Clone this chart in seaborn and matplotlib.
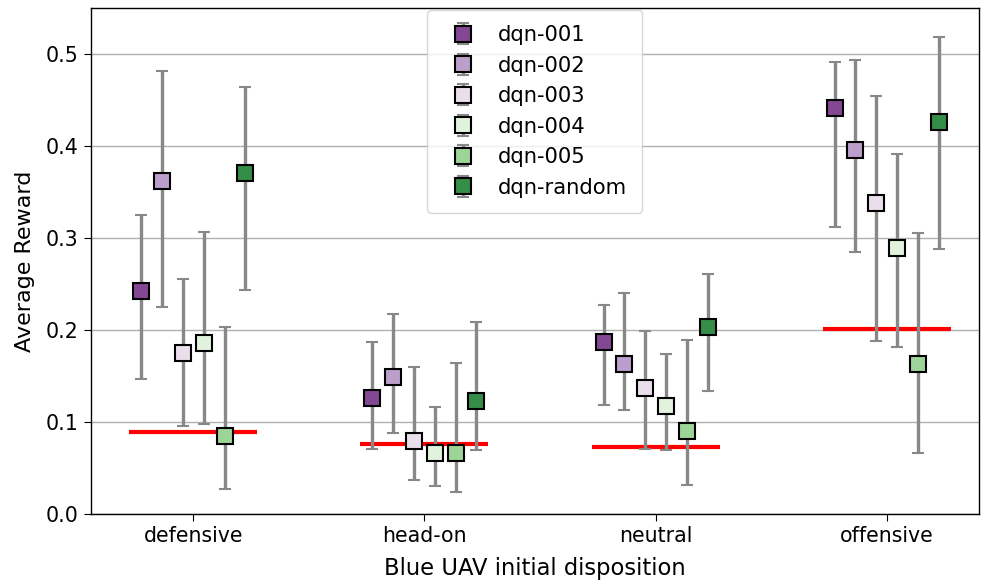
import numpy as np
import pandas as pd
import matplotlib
matplotlib.use("Agg")
import matplotlib.pyplot as plt
import seaborn as sns

categories = ["defensive", "head-on", "neutral", "offensive"]
series = ["dqn-001", "dqn-002", "dqn-003", "dqn-004", "dqn-005", "dqn-random"]

# mean values per series (order of categories)
mean_001 = [0.243, 0.126, 0.187, 0.441]
mean_002 = [0.362, 0.149, 0.163, 0.396]
mean_003 = [0.175, 0.080, 0.137, 0.338]
mean_004 = [0.186, 0.067, 0.118, 0.289]
mean_005 = [0.085, 0.067, 0.090, 0.163]
mean_rnd = [0.371, 0.123, 0.203, 0.426]

# lower / upper ends of the error bars
low_001 = [0.147, 0.071, 0.119, 0.312]
up_001 = [0.325, 0.187, 0.227, 0.492]
low_002 = [0.225, 0.088, 0.113, 0.285]
up_002 = [0.482, 0.218, 0.240, 0.494]
low_003 = [0.096, 0.037, 0.071, 0.188]
up_003 = [0.256, 0.160, 0.199, 0.455]
low_004 = [0.098, 0.031, 0.070, 0.182]
up_004 = [0.307, 0.116, 0.174, 0.391]
low_005 = [0.027, 0.024, 0.032, 0.067]
up_005 = [0.203, 0.164, 0.189, 0.306]
low_rnd = [0.244, 0.070, 0.134, 0.288]
up_rnd = [0.464, 0.209, 0.261, 0.519]

# baseline (red lines)
baseline = [0.089, 0.076, 0.073, 0.201]

means = [mean_001, mean_002, mean_003, mean_004, mean_005, mean_rnd]
lows = [low_001, low_002, low_003, low_004, low_005, low_rnd]
ups = [up_001, up_002, up_003, up_004, up_005, up_rnd]

rows = []
for s, m, lo, hi in zip(series, means, lows, ups):
    for i, c in enumerate(categories):
        rows.append(dict(series=s, category=c, idx=i, mean=m[i], low=lo[i], up=hi[i]))
df = pd.DataFrame(rows)

sns.set_style("white")
plt.rcParams["font.family"] = ["DejaVu Sans"]
plt.rcParams["text.color"] = "black"
plt.rcParams["axes.labelcolor"] = "black"
plt.rcParams["xtick.color"] = "black"
plt.rcParams["ytick.color"] = "black"
palette = sns.color_palette("PRGn", 6)

fig, ax = plt.subplots(figsize=(9.84, 5.83), dpi=100)
fig.subplots_adjust(left=0.092, right=0.995, top=0.986, bottom=0.118)

ax.yaxis.grid(True, color="#b0b0b0", linewidth=1.0, zorder=0)
ax.set_axisbelow(True)

for i, b in enumerate(baseline):
    ax.hlines(b, i - 0.277, i + 0.277, color="red", linewidth=3.0, zorder=1)

step = 0.09
for k, s in enumerate(series):
    d = df[df.series == s]
    x = d["idx"].to_numpy() + (k - 2.5) * step
    y = d["mean"].to_numpy()
    yerr = np.vstack([y - d["low"].to_numpy(), d["up"].to_numpy() - y])
    ax.errorbar(x, y, yerr=yerr, fmt="s", color=palette[k], markersize=11,
                markeredgecolor="black", markeredgewidth=1.5,
                ecolor="#888888", elinewidth=2.4, capsize=4.6, capthick=2,
                label=s, zorder=3)

ax.set_xticks(range(len(categories)))
ax.set_xticklabels(categories)
ax.set_xlim(-0.445, 3.4)
ax.set_ylim(0, 0.55)
ax.set_yticks([0.0, 0.1, 0.2, 0.3, 0.4, 0.5])
ax.set_yticklabels(["0.0", "0.1", "0.2", "0.3", "0.4", "0.5"])
ax.tick_params(axis="both", labelsize=14.8, length=5, color="black", direction="out",
               bottom=True, left=True)
for sp in ax.spines.values():
    sp.set_color("black")
    sp.set_linewidth(1.0)
ax.set_xlabel("Blue UAV initial disposition", fontsize=16.3, labelpad=8)
ax.set_ylabel("Average Reward", fontsize=16, labelpad=8)

leg = ax.legend(loc="upper center", fontsize=15.2, frameon=True, borderpad=0.7,
                labelspacing=0.5, handletextpad=0.65, borderaxespad=0.1)
leg.get_frame().set_edgecolor("#cccccc")

fig.savefig("out.png", dpi=100)
